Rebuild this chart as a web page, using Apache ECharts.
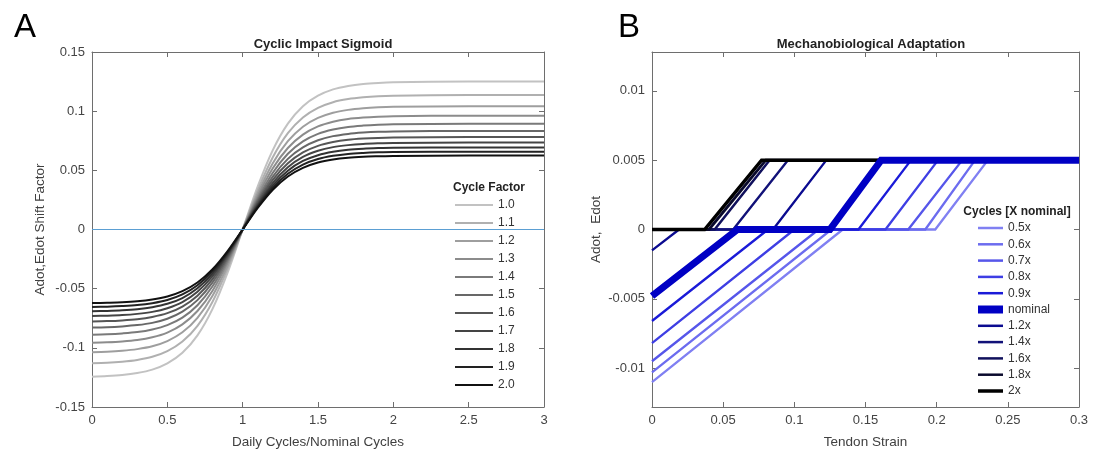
<!DOCTYPE html>
<html><head><meta charset="utf-8">
<script src="https://cdn.jsdelivr.net/npm/echarts@6/dist/echarts.min.js"></script>
<style>html,body{margin:0;padding:0;background:#fff}#c{width:1093px;height:460px}</style>
</head><body><div id="c"></div>
<script>
// ---------- Panel A data ----------
const xA = [0,0.1,0.2,0.3,0.4,0.5,0.6,0.7,0.8,0.9,1,1.1,1.2,1.3,1.4,1.5,1.6,1.7,1.8,1.9,2,2.5,3];
const cycleFactors = ['1.0','1.1','1.2','1.3','1.4','1.5','1.6','1.7','1.8','1.9','2.0'];
const yA10 = [-0.1244,-0.1239,-0.1230,-0.1213,-0.1184,-0.1131,-0.1042,-0.0895,-0.0671,-0.0364,0,0.0364,0.0671,0.0895,0.1042,0.1131,0.1184,0.1213,0.1230,0.1239,0.1244,0.1250,0.1250];
const yA11 = [-0.1130,-0.1126,-0.1117,-0.1102,-0.1076,-0.1028,-0.0947,-0.0814,-0.0610,-0.0331,0,0.0331,0.0610,0.0814,0.0947,0.1028,0.1076,0.1102,0.1117,0.1126,0.1130,0.1136,0.1136];
const yA12 = [-0.1037,-0.1033,-0.1025,-0.1011,-0.0987,-0.0943,-0.0869,-0.0746,-0.0560,-0.0304,0,0.0304,0.0560,0.0746,0.0869,0.0943,0.0987,0.1011,0.1025,0.1033,0.1037,0.1042,0.1042];
const yA13 = [-0.0957,-0.0953,-0.0946,-0.0934,-0.0911,-0.0871,-0.0802,-0.0689,-0.0517,-0.0280,0,0.0280,0.0517,0.0689,0.0802,0.0871,0.0911,0.0934,0.0946,0.0953,0.0957,0.0962,0.0962];
const yA14 = [-0.0889,-0.0885,-0.0878,-0.0867,-0.0845,-0.0808,-0.0745,-0.0640,-0.0480,-0.0260,0,0.0260,0.0480,0.0640,0.0745,0.0808,0.0845,0.0867,0.0878,0.0885,0.0889,0.0893,0.0893];
const yA15 = [-0.0829,-0.0826,-0.0819,-0.0808,-0.0789,-0.0754,-0.0694,-0.0597,-0.0447,-0.0243,0,0.0243,0.0447,0.0597,0.0694,0.0754,0.0789,0.0808,0.0819,0.0826,0.0829,0.0833,0.0833];
const yA16 = [-0.0777,-0.0774,-0.0768,-0.0758,-0.0739,-0.0707,-0.0651,-0.0559,-0.0419,-0.0228,0,0.0228,0.0419,0.0559,0.0651,0.0707,0.0739,0.0758,0.0768,0.0774,0.0777,0.0781,0.0781];
const yA17 = [-0.0731,-0.0728,-0.0723,-0.0713,-0.0696,-0.0665,-0.0613,-0.0526,-0.0395,-0.0214,0,0.0214,0.0395,0.0526,0.0613,0.0665,0.0696,0.0713,0.0723,0.0728,0.0731,0.0735,0.0735];
const yA18 = [-0.0691,-0.0688,-0.0683,-0.0674,-0.0657,-0.0628,-0.0579,-0.0497,-0.0373,-0.0202,0,0.0202,0.0373,0.0497,0.0579,0.0628,0.0657,0.0674,0.0683,0.0688,0.0691,0.0694,0.0694];
const yA19 = [-0.0655,-0.0652,-0.0647,-0.0639,-0.0623,-0.0596,-0.0549,-0.0471,-0.0353,-0.0192,0,0.0192,0.0353,0.0471,0.0549,0.0596,0.0623,0.0639,0.0647,0.0652,0.0655,0.0658,0.0658];
const yA20 = [-0.0622,-0.0619,-0.0615,-0.0607,-0.0592,-0.0566,-0.0521,-0.0448,-0.0336,-0.0182,0,0.0182,0.0336,0.0448,0.0521,0.0566,0.0592,0.0607,0.0615,0.0619,0.0622,0.0625,0.0625];
const yAll = [yA10,yA11,yA12,yA13,yA14,yA15,yA16,yA17,yA18,yA19,yA20];
const zeroLineA = [[0,0],[3,0]];
const yTicksA = [-0.15,-0.1,-0.05,0,0.05,0.1,0.15];

// ---------- Panel B data: [strain, Adot] breakpoints ----------
const cycleNames = ['0.5x','0.6x','0.7x','0.8x','0.9x','nominal','1.2x','1.4x','1.6x','1.8x','2x'];
const b05  = [[0,-0.0110],[0.134,0],[0.199,0],[0.236,0.005],[0.3,0.005]];
const b06  = [[0,-0.0103],[0.126,0],[0.192,0],[0.227,0.005],[0.3,0.005]];
const b07  = [[0,-0.0095],[0.117,0],[0.180,0],[0.218,0.005],[0.3,0.005]];
const b08  = [[0,-0.0082],[0.100,0],[0.164,0],[0.201,0.005],[0.3,0.005]];
const b09  = [[0,-0.0066],[0.0815,0],[0.145,0],[0.182,0.005],[0.3,0.005]];
const bNom = [[0,-0.0048],[0.060,0],[0.125,0],[0.161,0.005],[0.3,0.005]];
const b12  = [[0,-0.0015],[0.019,0],[0.085,0],[0.1225,0.005],[0.3,0.005]];
const b14  = [[0,0],[0.057,0],[0.0955,0.005],[0.3,0.005]];
const b16  = [[0,0],[0.044,0],[0.0826,0.005],[0.3,0.005]];
const b18  = [[0,0],[0.040,0],[0.080,0.005],[0.3,0.005]];
const b20  = [[0,0],[0.037,0],[0.077,0.005],[0.3,0.005]];
const bAll = [b05,b06,b07,b08,b09,bNom,b12,b14,b16,b18,b20];
const yTicksB = [-0.01,-0.005,0,0.005,0.01];

// ---------- styles ----------
const greyColors = ['#c2c2c2','#b0b0b0','#9e9e9e','#8c8c8c','#7a7a7a','#686868','#565656','#444444','#333333','#222222','#111111'];
const blueColors = ['#8080f2','#6c6cef','#5656ea','#3e3ee4','#1a1ad8','#0000c4','#0b0b90','#111178','#10105c','#0a0a2c','#000000'];
const blueWidths = [2.3,2.3,2.3,2.3,2.3,7,2.3,2.3,2.5,2.8,3.5];
const FONT = 'Arial, "Liberation Sans", sans-serif';
const axisGrey = '#6e6e6e';
const labelGrey = '#444';

function boxAxis(extra, showLabel) {
  return Object.assign({
    type: 'value',
    axisLine: {show: true, onZero: false, lineStyle: {color: axisGrey, width: 1}},
    axisTick: {show: true, inside: true, length: 5, lineStyle: {color: axisGrey}},
    splitLine: {show: false},
    axisLabel: {show: showLabel, color: labelGrey, fontSize: 13, fontFamily: FONT, margin: 7},
    nameTextStyle: {color: '#404040', fontSize: 13.5, fontFamily: FONT}
  }, extra);
}

const series = [];
series.push({
  name: 'zero', type: 'line', xAxisIndex: 0, yAxisIndex: 0, data: zeroLineA,
  showSymbol: false, symbol: 'none', silent: true, z: 4,
  lineStyle: {color: '#5b9fd3', width: 1}
});
yAll.forEach((ys, i) => {
  series.push({
    name: cycleFactors[i], type: 'line', xAxisIndex: 0, yAxisIndex: 0,
    data: xA.map((x, j) => [x, ys[j]]),
    smooth: 0.3, showSymbol: false, symbol: 'none',
    lineStyle: {color: greyColors[i], width: 2}, itemStyle: {color: greyColors[i]},
    silent: true, z: 3
  });
});
bAll.forEach((pts, i) => {
  series.push({
    name: cycleNames[i], type: 'line', xAxisIndex: 2, yAxisIndex: 2,
    data: pts, showSymbol: false, symbol: 'none',
    lineStyle: {color: blueColors[i], width: blueWidths[i], cap: 'butt', join: 'miter'},
    itemStyle: {color: blueColors[i]}, silent: true,
    z: cycleNames[i] === 'nominal' ? 5 : 3
  });
});

const legendBase = {
  orient: 'vertical', itemStyle: {opacity: 0}, selectedMode: false,
  textStyle: {color: '#333', fontSize: 12, fontFamily: FONT}, padding: 0
};

const option = {
  animation: false,
  backgroundColor: '#fff',
  title: [
    {text: 'A', left: 9, top: 6, textStyle: {fontSize: 33, fontWeight: 'normal', color: '#000', fontFamily: FONT}},
    {text: 'B', left: 613, top: 6, textStyle: {fontSize: 33, fontWeight: 'normal', color: '#000', fontFamily: FONT}},
    {text: 'Cyclic Impact Sigmoid', left: 318, top: 33, textAlign: 'center', textStyle: {fontSize: 13, fontWeight: 'bold', color: '#222', fontFamily: FONT}},
    {text: 'Mechanobiological Adaptation', left: 866, top: 33, textAlign: 'center', textStyle: {fontSize: 13, fontWeight: 'bold', color: '#222', fontFamily: FONT}},
    {text: 'Cycle Factor', left: 484, top: 177, textAlign: 'center', textStyle: {fontSize: 12, fontWeight: 'bold', color: '#222', fontFamily: FONT}},
    {text: 'Cycles [X nominal]', left: 1012, top: 201, textAlign: 'center', textStyle: {fontSize: 12, fontWeight: 'bold', color: '#222', fontFamily: FONT}}
  ],
  legend: [
    Object.assign({}, legendBase, {
      data: cycleFactors.map((n, i) => ({name: n, lineStyle: {width: 2, color: greyColors[i]}})),
      left: 454, top: 199, itemWidth: 38, itemHeight: 10, itemGap: 6}),
    Object.assign({}, legendBase, {
      data: cycleNames.map((n, i) => ({name: n, lineStyle: {width: blueWidths[i] > 5 ? 8 : (blueWidths[i] > 3 ? 3.5 : 2.5), color: blueColors[i]}})),
      left: 974, top: 222, itemWidth: 25, itemHeight: 10, itemGap: 4.3})
  ],
  grid: [
    {left: 92, top: 52, width: 452, height: 355},
    {left: 652, top: 52, width: 427, height: 355}
  ],
  xAxis: [
    boxAxis({gridIndex: 0, min: 0, max: 3, interval: 0.5, name: 'Daily Cycles/Nominal Cycles', nameLocation: 'middle', nameGap: 28}, true),
    boxAxis({gridIndex: 0, min: 0, max: 3, interval: 0.5, position: 'top'}, false),
    boxAxis({gridIndex: 1, min: 0, max: 0.3, interval: 0.05, name: 'Tendon Strain', nameLocation: 'middle', nameGap: 28}, true),
    boxAxis({gridIndex: 1, min: 0, max: 0.3, interval: 0.05, position: 'top'}, false)
  ],
  yAxis: [
    boxAxis({gridIndex: 0, min: -0.15, max: 0.15, interval: 0.05, name: 'Adot,Edot Shift Factor', nameLocation: 'middle', nameGap: 45,
      axisLabel: {show: true, color: labelGrey, fontSize: 13, fontFamily: FONT, margin: 7, customValues: yTicksA}, axisTick: {show: true, inside: true, length: 5, lineStyle: {color: axisGrey}, customValues: yTicksA}}, true),
    boxAxis({gridIndex: 0, min: -0.15, max: 0.15, interval: 0.05, position: 'right'}, false),
    boxAxis({gridIndex: 1, min: -0.0128, max: 0.0128, name: 'Adot,  Edot', nameLocation: 'middle', nameGap: 49,
      axisLabel: {show: true, color: labelGrey, fontSize: 13, fontFamily: FONT, margin: 7, customValues: yTicksB},
      axisTick: {show: true, inside: true, length: 5, lineStyle: {color: axisGrey}, customValues: yTicksB}}, true),
    boxAxis({gridIndex: 1, min: -0.0128, max: 0.0128, position: 'right',
      axisTick: {show: true, inside: true, length: 5, lineStyle: {color: axisGrey}, customValues: yTicksB}}, false)
  ],
  series: series
};
const chart = echarts.init(document.getElementById('c'), null, {renderer: 'canvas'});
chart.setOption(option);
</script></body></html>
